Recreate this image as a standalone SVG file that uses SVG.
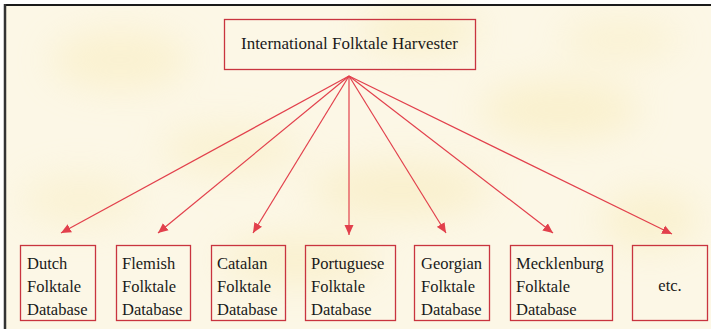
<svg xmlns="http://www.w3.org/2000/svg" width="711" height="329" viewBox="0 0 711 329">
  <defs>
    <filter id="soft" x="-50%" y="-50%" width="200%" height="200%">
      <feGaussianBlur stdDeviation="18"/>
    </filter>
    <marker id="head" viewBox="0 0 10 10" refX="10" refY="5" markerWidth="10" markerHeight="10" markerUnits="userSpaceOnUse" orient="auto">
      <path d="M0,0.5 L10,5 L0,9.5 Z" fill="#e2404c"/>
    </marker>
    <style>
      .box { fill: none; stroke: #c9343f; stroke-width: 1.3; }
      .lbl { font-size: 16.5px; fill: #1a1a1a; }
      .edge { stroke: #e2404c; stroke-width: 1.2; fill: none; marker-end: url(#head); }
    </style>
  </defs>

  <!-- page -->
  <rect x="0" y="0" width="711" height="329" fill="#ffffff"/>
  <rect x="5" y="5" width="706" height="324" fill="#fcf7e6"/>
  <!-- mottled parchment -->
  <g filter="url(#soft)" opacity="0.35">
    <ellipse cx="120" cy="60" rx="70" ry="30" fill="#f7e7a8"/>
    <ellipse cx="420" cy="30" rx="60" ry="22" fill="#f5e39a"/>
    <ellipse cx="560" cy="110" rx="80" ry="30" fill="#f6e5a2"/>
    <ellipse cx="230" cy="150" rx="70" ry="25" fill="#f7e8ae"/>
    <ellipse cx="400" cy="190" rx="90" ry="28" fill="#f5e3a0"/>
    <ellipse cx="80" cy="200" rx="60" ry="25" fill="#f7e9b2"/>
    <ellipse cx="650" cy="220" rx="50" ry="30" fill="#f6e6a6"/>
    <ellipse cx="300" cy="260" rx="80" ry="25" fill="#f6e5a4"/>
    <ellipse cx="620" cy="40" rx="60" ry="20" fill="#f7e8ae"/>
  </g>
  <!-- frame -->
  <line x1="4" y1="5" x2="711" y2="5" stroke="#1a1a1a" stroke-width="2"/>
  <line x1="5" y1="4" x2="5" y2="329" stroke="#333333" stroke-width="2.5"/>

  <g font-family="'Liberation Serif', 'Times New Roman', 'DejaVu Serif', serif">
    <g id="harvester">
      <rect class="box" x="224.5" y="19.5" width="251" height="50" fill="#fdf9ee"/>
      <text class="lbl" x="349.5" y="49" text-anchor="middle" textLength="217" lengthAdjust="spacingAndGlyphs">International Folktale Harvester</text>
    </g>

    <g id="connectors">
      <line class="edge" x1="349" y1="76" x2="61" y2="233"/>
      <line class="edge" x1="349" y1="76" x2="158" y2="233"/>
      <line class="edge" x1="349" y1="76" x2="253" y2="233"/>
      <line class="edge" x1="349" y1="76" x2="349" y2="235"/>
      <line class="edge" x1="349" y1="76" x2="446" y2="233"/>
      <line class="edge" x1="349" y1="76" x2="553" y2="233"/>
      <line class="edge" x1="349" y1="76" x2="672" y2="234"/>
    </g>

    <g id="dutch">
      <rect class="box" x="20.5" y="245.5" width="75" height="75"/>
      <text class="lbl" x="27" y="269">Dutch</text>
      <text class="lbl" x="27" y="292">Folktale</text>
      <text class="lbl" x="27" y="315">Database</text>
    </g>
    <g id="flemish">
      <rect class="box" x="116.5" y="245.5" width="74" height="75"/>
      <text class="lbl" x="122" y="269">Flemish</text>
      <text class="lbl" x="122" y="292">Folktale</text>
      <text class="lbl" x="122" y="315">Database</text>
    </g>
    <g id="catalan">
      <rect class="box" x="211.5" y="245.5" width="74" height="75"/>
      <text class="lbl" x="217" y="269">Catalan</text>
      <text class="lbl" x="217" y="292">Folktale</text>
      <text class="lbl" x="217" y="315">Database</text>
    </g>
    <g id="portuguese">
      <rect class="box" x="305.5" y="245.5" width="90" height="75"/>
      <text class="lbl" x="311" y="269">Portuguese</text>
      <text class="lbl" x="311" y="292">Folktale</text>
      <text class="lbl" x="311" y="315">Database</text>
    </g>
    <g id="georgian">
      <rect class="box" x="414.5" y="245.5" width="75" height="75"/>
      <text class="lbl" x="421" y="269">Georgian</text>
      <text class="lbl" x="421" y="292">Folktale</text>
      <text class="lbl" x="421" y="315">Database</text>
    </g>
    <g id="mecklenburg">
      <rect class="box" x="510.5" y="245.5" width="102" height="75"/>
      <text class="lbl" x="516" y="269">Mecklenburg</text>
      <text class="lbl" x="516" y="292">Folktale</text>
      <text class="lbl" x="516" y="315">Database</text>
    </g>
    <g id="etc">
      <rect class="box" x="632.5" y="245.5" width="75" height="75"/>
      <text class="lbl" x="670" y="291" text-anchor="middle">etc.</text>
    </g>
  </g>
</svg>
